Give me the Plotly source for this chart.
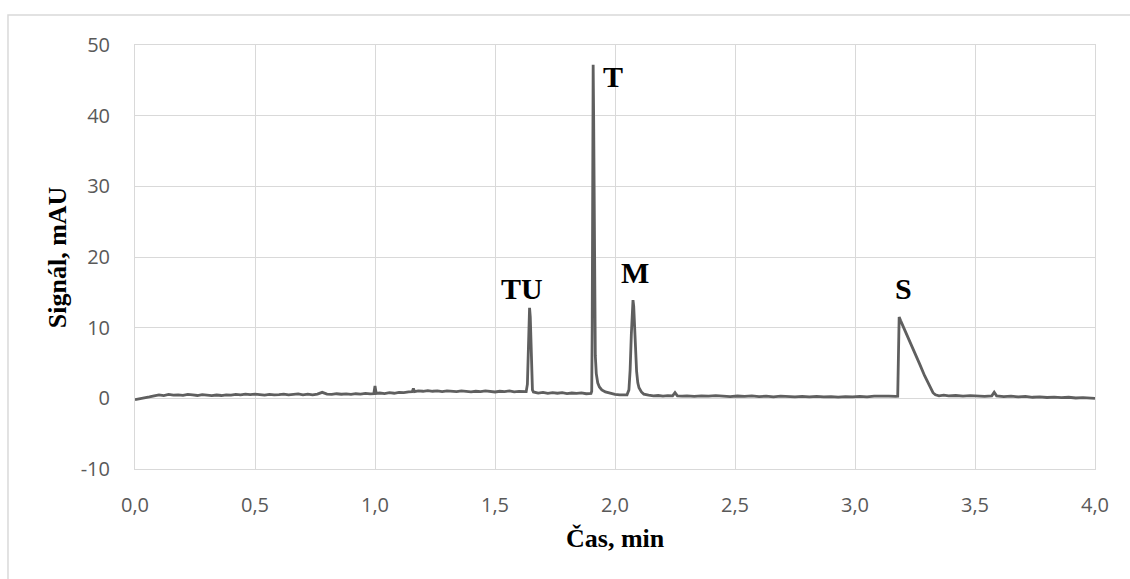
import plotly.graph_objects as go

# Chromatogram: time (min) and signal (mAU)
time_min = [
    0.00, 0.02, 0.04, 0.06, 0.08, 0.10, 0.12, 0.14, 0.16, 0.18,
    0.20, 0.22, 0.24, 0.26, 0.28, 0.30, 0.32, 0.34, 0.36, 0.38,
    0.40, 0.42, 0.44, 0.46, 0.48, 0.50, 0.52, 0.54, 0.56, 0.58,
    0.60, 0.62, 0.64, 0.66, 0.68, 0.70, 0.72, 0.74, 0.76, 0.78,
    0.80, 0.82, 0.84, 0.86, 0.88, 0.90, 0.92, 0.94, 0.96, 0.98,
    0.995, 1.000, 1.005, 1.02, 1.04, 1.06, 1.08, 1.10, 1.12, 1.14,
    1.155, 1.16, 1.165, 1.18, 1.20, 1.22, 1.24, 1.26, 1.28, 1.30,
    1.32, 1.34, 1.36, 1.38, 1.40, 1.42, 1.44, 1.46, 1.48, 1.50,
    1.52, 1.54, 1.56, 1.58, 1.60, 1.62, 1.63,
    1.635, 1.638, 1.641, 1.644, 1.647, 1.650, 1.653, 1.656, 1.66,
    1.68, 1.70, 1.72, 1.74, 1.76, 1.78, 1.80, 1.82, 1.84, 1.86, 1.88, 1.90,
    1.903, 1.905, 1.907, 1.909, 1.911, 1.913, 1.915, 1.918, 1.922, 1.928,
    1.935, 1.945, 1.96, 1.98, 2.00, 2.02, 2.04, 2.05,
    2.058, 2.063, 2.068, 2.072, 2.075, 2.078, 2.082, 2.086, 2.09, 2.095,
    2.10, 2.11, 2.12, 2.14, 2.16, 2.18, 2.20, 2.22, 2.24, 2.25, 2.26, 2.28,
    2.30, 2.33, 2.36, 2.39, 2.42, 2.45, 2.48, 2.51, 2.54, 2.57,
    2.60, 2.63, 2.66, 2.69, 2.72, 2.75, 2.78, 2.81, 2.84, 2.87,
    2.90, 2.93, 2.96, 2.99, 3.02, 3.05, 3.08, 3.11, 3.14, 3.17, 3.178,
    3.181, 3.184, 3.19, 3.21, 3.23, 3.25, 3.27, 3.29, 3.31, 3.325, 3.335,
    3.35, 3.37, 3.39, 3.42, 3.45, 3.48, 3.51, 3.54, 3.57, 3.58, 3.59,
    3.62, 3.65, 3.68, 3.71, 3.74, 3.77, 3.80, 3.83, 3.86, 3.89,
    3.92, 3.95, 3.98, 4.00,
]
signal_mau = [
    -0.20, -0.10, 0.05, 0.20, 0.35, 0.50, 0.40, 0.55, 0.45, 0.50,
    0.42, 0.55, 0.48, 0.40, 0.52, 0.45, 0.38, 0.47, 0.40, 0.50,
    0.45, 0.55, 0.50, 0.60, 0.52, 0.58, 0.50, 0.45, 0.55, 0.48,
    0.52, 0.60, 0.50, 0.55, 0.62, 0.50, 0.58, 0.50, 0.60, 0.85,
    0.60, 0.55, 0.65, 0.58, 0.62, 0.55, 0.65, 0.60, 0.70, 0.62,
    0.65, 1.75, 0.70, 0.75, 0.68, 0.80, 0.72, 0.85, 0.80, 0.90,
    0.95, 1.40, 0.95, 1.05, 1.00, 1.10, 1.00, 1.05, 0.95, 1.05,
    1.00, 0.95, 1.05, 1.00, 0.92, 1.00, 0.95, 1.05, 0.98, 0.90,
    1.00, 0.95, 1.05, 0.92, 0.98, 0.90, 0.95,
    2.0, 6.0, 11.0, 12.8, 11.5, 6.5, 2.5, 1.2, 0.9,
    0.75, 0.85, 0.70, 0.80, 0.72, 0.80, 0.68, 0.75, 0.70, 0.78, 0.65, 0.70,
    1.0, 10.0, 35.0, 47.2, 40.0, 25.0, 12.0, 6.0, 3.5, 2.2,
    1.6, 1.2, 0.9, 0.7, 0.55, 0.50, 0.45, 0.50,
    1.2, 4.0, 9.0, 13.0, 13.9, 13.0, 9.5, 6.0, 3.8, 2.2,
    1.5, 0.9, 0.6, 0.45, 0.35, 0.40, 0.30, 0.38, 0.35, 0.80, 0.35, 0.30,
    0.35, 0.28, 0.35, 0.30, 0.38, 0.32, 0.25, 0.33, 0.28, 0.35,
    0.25, 0.30, 0.22, 0.30, 0.25, 0.20, 0.28, 0.22, 0.28, 0.20,
    0.25, 0.18, 0.25, 0.20, 0.28, 0.22, 0.30, 0.25, 0.30, 0.28, 0.30,
    6.0, 11.5, 11.0, 9.5, 8.0, 6.4, 4.8, 3.2, 1.7, 0.8, 0.5,
    0.35, 0.45, 0.35, 0.40, 0.30, 0.38, 0.32, 0.28, 0.35, 0.85, 0.35,
    0.25, 0.30, 0.20, 0.28, 0.15, 0.22, 0.12, 0.18, 0.10, 0.15,
    0.05, 0.10, 0.02, 0.00,
]

# Peak labels
peak_names = ["TU", "T", "M", "S"]
peak_x = [1.613, 1.99, 2.083, 3.20]
peak_y = [15.5, 45.5, 17.8, 15.6]

# Tick labels
x_tick_vals = [0.0, 0.5, 1.0, 1.5, 2.0, 2.5, 3.0, 3.5, 4.0]
x_tick_text = ["0,0", "0,5", "1,0", "1,5", "2,0", "2,5", "3,0", "3,5", "4,0"]
y_tick_vals = [-10, 0, 10, 20, 30, 40, 50]
y_tick_text = ["-10", "0", "10", "20", "30", "40", "50"]

x_title = "Čas, min"
y_title = "Signál, mAU"

fig = go.Figure()
fig.add_trace(go.Scatter(
    x=time_min, y=signal_mau, mode="lines",
    line=dict(color="#5f5f5f", width=2.8),
    showlegend=False, hoverinfo="skip",
))

for name, px_, py_ in zip(peak_names, peak_x, peak_y):
    fig.add_annotation(
        x=px_, y=py_, text=f"<b>{name}</b>", showarrow=False,
        xanchor="center", yanchor="middle",
        font=dict(family="Liberation Serif", size=30, color="#000000"),
    )

tick_font = dict(family="Open Sans", size=20, color="#595959")

fig.update_xaxes(
    range=[0, 4], tickvals=x_tick_vals, ticktext=x_tick_text,
    showgrid=True, gridcolor="#d9d9d9", gridwidth=1,
    showline=True, linecolor="#d9d9d9", linewidth=1, mirror=True,
    zeroline=False, ticks="outside", ticklen=18, tickcolor="rgba(0,0,0,0)",
    tickfont=tick_font,
)
fig.update_yaxes(
    range=[-10, 50], tickvals=y_tick_vals, ticktext=y_tick_text,
    showgrid=True, gridcolor="#d9d9d9", gridwidth=1,
    showline=True, linecolor="#d9d9d9", linewidth=1, mirror=True,
    zeroline=False, ticks="outside", ticklen=20, tickcolor="rgba(0,0,0,0)",
    tickfont=tick_font,
)

# Axis titles
fig.add_annotation(
    x=0.5, y=-0.165, xref="paper", yref="paper", text=f"<b>{x_title}</b>",
    xanchor="center", yanchor="middle",
    showarrow=False, font=dict(family="Liberation Serif", size=26, color="#000000"),
)
fig.add_annotation(
    x=-0.081, y=0.5, xref="paper", yref="paper", text=f"<b>{y_title}</b>",
    xanchor="center", yanchor="middle",
    showarrow=False, textangle=-90,
    font=dict(family="Liberation Serif", size=26, color="#000000"),
)

# Outer chart border
fig.add_shape(
    type="rect", xref="paper", yref="paper",
    x0=-0.1323, y0=-0.35, x1=1.2, y1=1.0708,
    line=dict(color="#d9d9d9", width=1.5), fillcolor="rgba(0,0,0,0)", layer="below",
)

fig.update_layout(
    width=1130, height=579,
    margin=dict(l=135, r=35, t=45, b=110),
    paper_bgcolor="white", plot_bgcolor="white",
)

fig.write_html("out.html")
